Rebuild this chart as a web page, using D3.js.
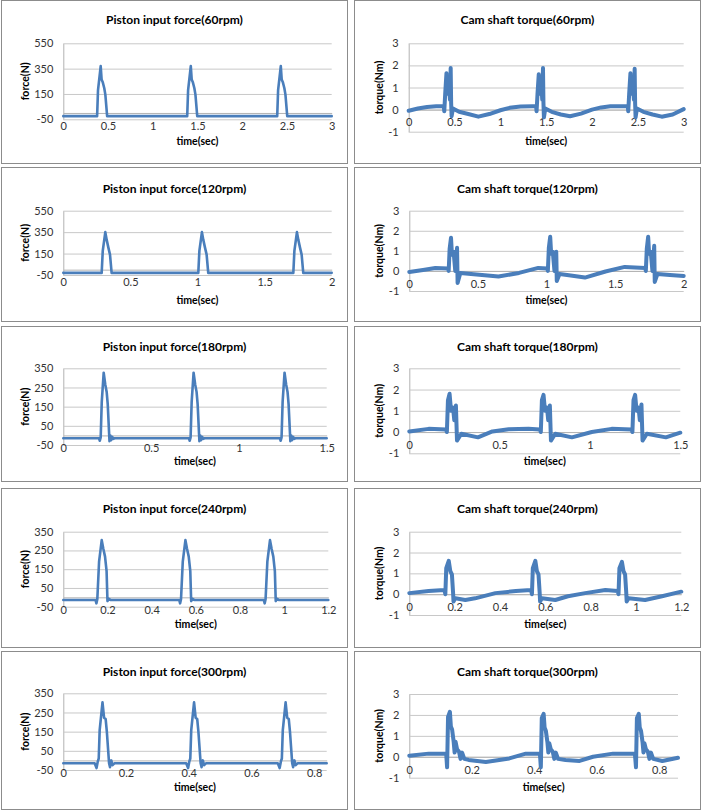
<!DOCTYPE html>
<html><head><meta charset="utf-8">
<script src="https://cdn.jsdelivr.net/npm/d3@7"></script>
<style>body{margin:0;background:#fff}</style>
</head><body>
<svg id="c" width="703" height="811"></svg>
<script>
// ---------- DATA ----------
const titles = [
  "Piston input force(60rpm)", "Cam shaft torque(60rpm)",
  "Piston input force(120rpm)", "Cam shaft torque(120rpm)",
  "Piston input force(180rpm)", "Cam shaft torque(180rpm)",
  "Piston input force(240rpm)", "Cam shaft torque(240rpm)",
  "Piston input force(300rpm)", "Cam shaft torque(300rpm)"
];
const xLabel = "time(sec)";
const forceLabel = "force(N)";
const torqueLabel = "torque(Nm)";

const forceTicksA = [-50, 150, 350, 550];
const forceTicksB = [-50, 50, 150, 250, 350];
const torqueTicks = [-1, 0, 1, 2, 3];
const xTicks60 = [0, 0.5, 1, 1.5, 2, 2.5, 3];
const xTicks120 = [0, 0.5, 1, 1.5, 2];
const xTicks180 = [0, 0.5, 1, 1.5];
const xTicks240 = [0, 0.2, 0.4, 0.6, 0.8, 1, 1.2];
const xTicks300 = [0, 0.2, 0.4, 0.6, 0.8];

// [time(s), force(N)]
const force60 = [
  [0,-25],[0.378,-25],[0.388,180],[0.418,370],[0.428,265],[0.44,245],[0.458,195],[0.47,145],[0.49,-25],
  [1.385,-25],[1.395,180],[1.425,370],[1.435,265],[1.447,245],[1.465,195],[1.477,145],[1.497,-25],
  [2.391,-25],[2.401,180],[2.431,370],[2.441,265],[2.453,245],[2.471,195],[2.483,145],[2.503,-25],[3,-25]
];
const force120 = [
  [0,-30],[0.286,-30],[0.294,175],[0.313,350],[0.323,280],[0.335,210],[0.348,140],[0.36,-30],
  [1.006,-30],[1.014,175],[1.033,350],[1.043,280],[1.055,210],[1.068,140],[1.08,-30],
  [1.714,-30],[1.722,175],[1.741,350],[1.751,280],[1.763,210],[1.776,140],[1.788,-30],[2,-30]
];
const force180 = [
  [0,-15],[0.203,-15],[0.208,-28],[0.213,-10],[0.219,175],[0.23,327],[0.239,266],[0.247,227],[0.253,163],[0.263,-30],[0.268,0],[0.273,-25],[0.279,-8],[0.285,-18],[0.293,-15],
  [0.715,-15],[0.72,-28],[0.725,-10],[0.731,175],[0.742,327],[0.751,266],[0.759,227],[0.765,163],[0.775,-30],[0.78,0],[0.785,-25],[0.791,-8],[0.797,-18],[0.805,-15],
  [1.233,-15],[1.238,-28],[1.243,-10],[1.249,175],[1.26,327],[1.269,266],[1.277,227],[1.283,163],[1.293,-30],[1.298,0],[1.303,-25],[1.309,-8],[1.315,-18],[1.323,-15],[1.5,-15]
];
const force240 = [
  [0,-14],[0.146,-14],[0.15,-32],[0.154,-10],[0.162,190],[0.174,305],[0.181,260],[0.189,217],[0.196,140],[0.2,-20],[0.206,-8],[0.214,-14],
  [0.525,-14],[0.529,-32],[0.533,-10],[0.541,190],[0.553,305],[0.56,260],[0.568,217],[0.575,140],[0.579,-20],[0.585,-8],[0.593,-14],
  [0.908,-14],[0.912,-32],[0.916,-10],[0.924,190],[0.936,305],[0.943,260],[0.951,217],[0.958,140],[0.962,-20],[0.968,-8],[0.976,-14],[1.2,-14]
];
const force300 = [
  [0,-15],[0.1,-15],[0.106,-40],[0.11,-5],[0.113,10],[0.116,158],[0.125,303],[0.13,223],[0.135,216],[0.139,147],[0.146,-15],[0.149,-35],[0.153,0],[0.157,-25],[0.163,-15],
  [0.392,-15],[0.398,-40],[0.402,-5],[0.405,10],[0.408,158],[0.417,303],[0.422,223],[0.427,216],[0.431,147],[0.438,-15],[0.441,-35],[0.445,0],[0.449,-25],[0.455,-15],
  [0.684,-15],[0.69,-40],[0.694,-5],[0.697,10],[0.7,158],[0.709,303],[0.714,223],[0.719,216],[0.723,147],[0.73,-15],[0.733,-35],[0.737,0],[0.741,-25],[0.747,-15],[0.84,-15]
];

// [time(s), torque(Nm)]
const torque60 = [
  [0,-0.05],[0.1,0.05],[0.2,0.12],[0.3,0.15],[0.383,0.15],[0.388,-0.08],[0.398,0.7],[0.412,1.65],[0.418,0.75],[0.426,1.0],[0.434,0.7],[0.442,0.95],[0.45,0.45],[0.458,1.88],[0.463,0.3],[0.468,-0.3],[0.483,0.05],
  [0.55,-0.1],[0.65,-0.2],[0.76,-0.32],[0.88,-0.2],[1.0,-0.03],[1.1,0.08],[1.22,0.14],[1.35,0.15],
  [1.39,0.15],[1.395,-0.08],[1.405,0.7],[1.419,1.6],[1.425,0.75],[1.433,1.0],[1.441,0.7],[1.449,0.95],[1.457,0.45],[1.465,1.88],[1.47,0.3],[1.475,-0.35],[1.49,0.05],
  [1.56,-0.1],[1.66,-0.22],[1.76,-0.3],[1.88,-0.18],[2.0,0.0],[2.1,0.1],[2.2,0.15],[2.3,0.15],
  [2.39,0.15],[2.395,-0.08],[2.405,0.7],[2.419,1.65],[2.425,0.75],[2.433,1.0],[2.441,0.7],[2.449,0.95],[2.457,0.45],[2.465,1.85],[2.47,0.3],[2.475,-0.35],[2.49,0.05],
  [2.56,-0.1],[2.66,-0.22],[2.76,-0.32],[2.88,-0.22],[3.0,0.02]
];
const torque120 = [
  [0,-0.05],[0.1,0.05],[0.19,0.15],[0.282,0.12],[0.287,0.0],[0.294,1.1],[0.304,1.65],[0.311,0.8],[0.323,0.95],[0.335,0.0],[0.348,1.15],[0.352,-0.6],[0.372,-0.1],
  [0.45,-0.15],[0.55,-0.22],[0.65,-0.28],[0.8,-0.1],[0.94,0.15],[1.005,0.12],
  [1.01,0.0],[1.017,1.15],[1.027,1.7],[1.034,0.85],[1.046,0.95],[1.058,0.0],[1.071,0.95],[1.075,-0.5],[1.095,-0.15],
  [1.15,-0.2],[1.28,-0.33],[1.43,-0.03],[1.57,0.2],[1.719,0.15],
  [1.724,0.0],[1.731,1.1],[1.741,1.7],[1.748,0.85],[1.76,0.95],[1.772,0.0],[1.785,1.25],[1.789,-0.55],[1.809,-0.15],
  [1.9,-0.2],[2.0,-0.25]
];
const torque180 = [
  [0,0.03],[0.107,0.15],[0.203,0.12],[0.208,0.0],[0.214,1.5],[0.223,1.8],[0.231,1.0],[0.242,1.15],[0.249,0.55],[0.258,1.25],[0.264,-0.4],[0.288,-0.08],
  [0.38,-0.25],[0.46,0.03],[0.55,0.13],[0.66,0.15],[0.723,0.12],
  [0.728,0.0],[0.734,1.5],[0.743,1.75],[0.751,1.0],[0.762,1.15],[0.769,0.55],[0.778,1.25],[0.784,-0.4],[0.808,-0.08],
  [0.9,-0.25],[1.01,0.0],[1.12,0.15],[1.23,0.12],
  [1.235,0.0],[1.241,1.5],[1.25,1.75],[1.258,1.0],[1.269,1.15],[1.276,0.55],[1.285,1.3],[1.291,-0.4],[1.315,-0.08],
  [1.42,-0.25],[1.5,-0.03]
];
const torque240 = [
  [0,0.05],[0.085,0.15],[0.155,0.2],[0.159,0.0],[0.163,1.25],[0.174,1.6],[0.181,1.1],[0.188,0.95],[0.193,0.1],[0.195,-0.35],[0.203,-0.2],
  [0.247,-0.28],[0.29,-0.2],[0.38,0.05],[0.47,0.15],[0.537,0.2],
  [0.541,0.0],[0.545,1.25],[0.556,1.6],[0.563,1.1],[0.57,0.95],[0.575,0.1],[0.577,-0.35],[0.585,-0.2],
  [0.644,-0.28],[0.7,-0.1],[0.776,0.05],[0.865,0.2],[0.919,0.15],
  [0.923,0.0],[0.927,1.25],[0.938,1.55],[0.945,1.1],[0.952,0.95],[0.957,0.1],[0.959,-0.35],[0.967,-0.2],
  [1.04,-0.28],[1.115,-0.1],[1.2,0.12]
];
const torque300 = [
  [0,0.05],[0.062,0.15],[0.118,0.15],[0.121,-0.5],[0.124,1.9],[0.13,2.15],[0.133,1.45],[0.137,1.3],[0.142,0.72],[0.145,0.2],[0.148,0.72],[0.153,0.35],[0.159,0.25],[0.164,-0.1],[0.169,0.2],[0.176,-0.1],
  [0.19,-0.15],[0.245,-0.25],[0.32,-0.08],[0.373,0.15],[0.418,0.15],
  [0.421,-0.5],[0.424,1.85],[0.43,2.05],[0.433,1.4],[0.437,1.25],[0.442,0.7],[0.445,0.2],[0.448,0.65],[0.453,0.35],[0.459,0.25],[0.464,-0.1],[0.469,0.2],[0.476,-0.1],
  [0.5,-0.15],[0.545,-0.2],[0.588,0.0],[0.652,0.15],[0.722,0.15],
  [0.7255,-0.5],[0.7285,1.85],[0.7345,2.05],[0.7375,1.4],[0.7415,1.25],[0.7465,0.7],[0.7495,0.2],[0.7525,0.65],[0.7575,0.35],[0.7635,0.25],[0.7685,-0.1],[0.7735,0.2],[0.7805,-0.1],
  [0.81,-0.2],[0.86,-0.05]
];

// ---------- LAYOUT ----------
const FONT = "Lato, 'Open Sans', sans-serif";
const BLUE = "#4a7ebb";
const svg = d3.select("#c");
svg.append("rect").attr("width",703).attr("height",811).attr("fill","#fff");

const rows = [
  {top:0.5,   bottom:163.5, titleY:20,    xtY:141.7, fY:[43.3,119.3],  tY:[43.3,131.7]},
  {top:167.5, bottom:321.5, titleY:188.5, xtY:300,   fY:[210.7,275],   tY:[210.7,291]},
  {top:326.5, bottom:481.5, titleY:346.7, xtY:461.7, fY:[368.3,445],   tY:[368.3,453.3]},
  {top:488.5, bottom:647.5, titleY:509,   xtY:624.3, fY:[531.7,606.7], tY:[531.7,615]},
  {top:651.5, bottom:809.5, titleY:671.7, xtY:787.7, fY:[693.3,770],   tY:[694,777.7]}
];
const cols = [
  {x0:1.5, x1:347.5, yTitleX:25, xr:[[63.3,331.7],[63.3,331.7],[63.3,326.7],[63.3,328.3],[63.3,326.7]]},
  {x0:354.5, x1:700.5, yTitleX:379.5, xr:[[408.7,683.7],[409.3,683.7],[409.3,680.3],[409.3,681.3],[409.3,678]]}
];

const charts = [
  {r:0,c:0,data:force60, xMax:3,   xTicks:xTicks60, yDom:[-50,550], yTicks:forceTicksA, yLabel:forceLabel},
  {r:0,c:1,data:torque60,xMax:3,   xTicks:xTicks60, yDom:[-1,3],    yTicks:torqueTicks, yLabel:torqueLabel},
  {r:1,c:0,data:force120,xMax:2,   xTicks:xTicks120,yDom:[-50,550], yTicks:forceTicksA, yLabel:forceLabel},
  {r:1,c:1,data:torque120,xMax:2,  xTicks:xTicks120,yDom:[-1,3],    yTicks:torqueTicks, yLabel:torqueLabel},
  {r:2,c:0,data:force180,xMax:1.5, xTicks:xTicks180,yDom:[-50,350], yTicks:forceTicksB, yLabel:forceLabel},
  {r:2,c:1,data:torque180,xMax:1.5,xTicks:xTicks180,yDom:[-1,3],    yTicks:torqueTicks, yLabel:torqueLabel},
  {r:3,c:0,data:force240,xMax:1.2, xTicks:xTicks240,yDom:[-50,350], yTicks:forceTicksB, yLabel:forceLabel},
  {r:3,c:1,data:torque240,xMax:1.2,xTicks:xTicks240,yDom:[-1,3],    yTicks:torqueTicks, yLabel:torqueLabel},
  {r:4,c:0,data:force300,xMax:0.84,xTicks:xTicks300,yDom:[-50,350], yTicks:forceTicksB, yLabel:forceLabel},
  {r:4,c:1,data:torque300,xMax:0.86,xTicks:xTicks300,yDom:[-1,3],   yTicks:torqueTicks, yLabel:torqueLabel}
];

function fit(text, weight, target){
  const t = svg.append("text").attr("font-family",FONT).attr("font-weight",weight).attr("font-size",100).text(text);
  const w = t.node().getComputedTextLength(); t.remove();
  return 100*target/w;
}
const titleSize = fit("Piston input force(60rpm)", "bold", 137);
const axisTitleSize = fit("time(sec)", "bold", 42);
const tickSize = 11;

charts.forEach((ch, i) => {
  const row = rows[ch.r], col = cols[ch.c];
  const g = svg.append("g");
  // panel border
  g.append("rect").attr("x",col.x0).attr("y",row.top)
    .attr("width",col.x1-col.x0).attr("height",row.bottom-row.top)
    .attr("fill","#fff").attr("stroke","#8c8c8c").attr("stroke-width",1);

  const xr = col.xr[ch.r];
  const yr = ch.c === 0 ? row.fY : row.tY;
  const x = d3.scaleLinear().domain([0, ch.xMax]).range(xr);
  const y = d3.scaleLinear().domain(ch.yDom).range([yr[1], yr[0]]);
  const pw = xr[1]-xr[0];

  // y axis with gridlines
  const ya = g.append("g").attr("transform",`translate(${xr[0]},0)`)
    .call(d3.axisLeft(y).tickValues(ch.yTicks).tickSize(-pw).tickSizeOuter(0).tickPadding(10).tickFormat(d => String(d)));
  ya.select(".domain").attr("stroke","#b3b3b3");
  ya.selectAll(".tick line").attr("stroke","#c8c8c8");
  ya.selectAll(".tick text").attr("font-family",FONT).attr("font-size",tickSize).attr("fill","#333");

  // x axis at value 0
  const xa = g.append("g").attr("transform",`translate(0,${y(0)})`)
    .call(d3.axisBottom(x).tickValues(ch.xTicks).tickSize(0).tickSizeOuter(0).tickPadding(9).tickFormat(d => String(d)));
  xa.select(".domain").attr("stroke","#b3b3b3");
  xa.selectAll(".tick text").attr("font-family",FONT).attr("font-size",tickSize).attr("fill","#333");

  // data line
  const line = d3.line().x(d => x(d[0])).y(d => y(d[1]));
  g.append("path").datum(ch.data).attr("d", line)
    .attr("fill","none").attr("stroke",BLUE)
    .attr("stroke-width", ch.c === 0 ? 2.6 : 4)
    .attr("stroke-linejoin","round").attr("stroke-linecap","round");

  // chart title
  g.append("text").attr("x",(col.x0+col.x1)/2).attr("y",row.titleY).attr("dy","0.35em")
    .attr("text-anchor","middle").attr("font-family",FONT).attr("font-weight","bold")
    .attr("font-size",titleSize).attr("fill","#000").text(titles[i]);
  // x title
  g.append("text").attr("x",(xr[0]+xr[1])/2).attr("y",row.xtY).attr("dy","0.35em")
    .attr("text-anchor","middle").attr("font-family",FONT).attr("font-weight","bold")
    .attr("font-size",axisTitleSize).attr("fill","#000").text(xLabel);
  // y title
  const cy = (yr[0]+yr[1])/2;
  g.append("text").attr("transform",`translate(${col.yTitleX},${cy}) rotate(-90)`).attr("dy","0.35em")
    .attr("text-anchor","middle").attr("font-family",FONT).attr("font-weight","bold")
    .attr("font-size",axisTitleSize).attr("fill","#000").text(ch.yLabel);
});
</script>
</body></html>
